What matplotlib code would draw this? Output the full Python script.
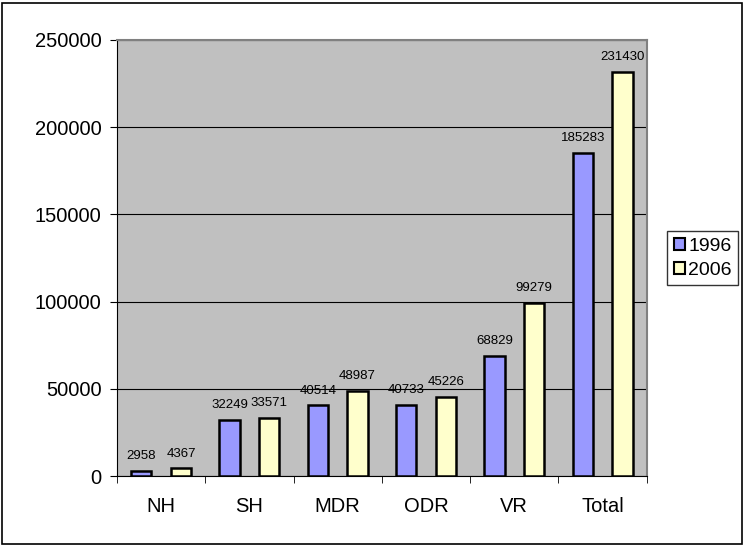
import matplotlib.pyplot as plt
import numpy as np
from matplotlib.patches import Rectangle

categories = ["NH", "SH", "MDR", "ODR", "VR", "Total"]
years = ["1996", "2006"]
values_1996 = [2958, 32249, 40514, 40733, 68829, 185283]
values_2006 = [4367, 33571, 48987, 45226, 99279, 231430]
yticks = [0, 50000, 100000, 150000, 200000, 250000]

FONT = "Liberation Sans"

fig = plt.figure(figsize=(7.45, 5.46), dpi=100)
fig.patches.append(Rectangle((0.003, 0.004), 0.993, 0.99, transform=fig.transFigure,
                             fill=False, edgecolor="black", linewidth=1.2))
ax = fig.add_axes([0.157, 0.128, 0.711, 0.799])
ax.set_facecolor("#C0C0C0")

x = np.arange(len(categories))
w = 0.23
off = 0.225
b1 = ax.bar(x - off, values_1996, w, color="#9999FF", edgecolor="black", linewidth=1.8,
            label=years[0], zorder=3)
b2 = ax.bar(x + off, values_2006, w, color="#FFFFCC", edgecolor="black", linewidth=1.8,
            label=years[1], zorder=3)
for bars in (b1, b2):
    for r in bars:
        ax.annotate(f"{int(r.get_height())}", (r.get_x() + r.get_width() / 2, r.get_height()),
                    xytext=(0, 8.5), textcoords="offset points", ha="center", va="baseline",
                    fontsize=9.5, family=FONT, zorder=4)

ax.set_xlim(-0.5, len(categories) - 0.5)
ax.set_ylim(0, 250000)
ax.set_yticks(yticks)
ax.set_yticklabels([str(t) for t in yticks], family=FONT, fontsize=14.5)
ax.yaxis.grid(True, color="black", linewidth=0.8, zorder=1)
ax.set_xticks(x)
ax.set_xticklabels(categories, family=FONT, fontsize=14.5)
ax.tick_params(axis="x", length=0, pad=15)
ax.set_xticks(np.arange(-0.5, len(categories)), minor=True)
ax.tick_params(axis="x", which="minor", length=5, color="black")
ax.tick_params(axis="y", length=5, color="black", pad=6)
for s in ("top", "right"):
    ax.spines[s].set_color("#808080")
    ax.spines[s].set_linewidth(1.5)
ax.spines["left"].set_color("black")
ax.spines["bottom"].set_color("black")

leg = ax.legend(loc="center left", bbox_to_anchor=(0.895, 0.527), bbox_transform=fig.transFigure,
                frameon=True, fancybox=False, edgecolor="black",
                prop={"family": FONT, "size": 14},
                handlelength=0.6, handleheight=0.6, handletextpad=0.15, borderpad=0.35,
                labelspacing=0.35, borderaxespad=0)
leg.get_frame().set_linewidth(1.0)
for h in leg.legend_handles:
    h.set_linewidth(1.5)

fig.savefig("out.png", dpi=100)
